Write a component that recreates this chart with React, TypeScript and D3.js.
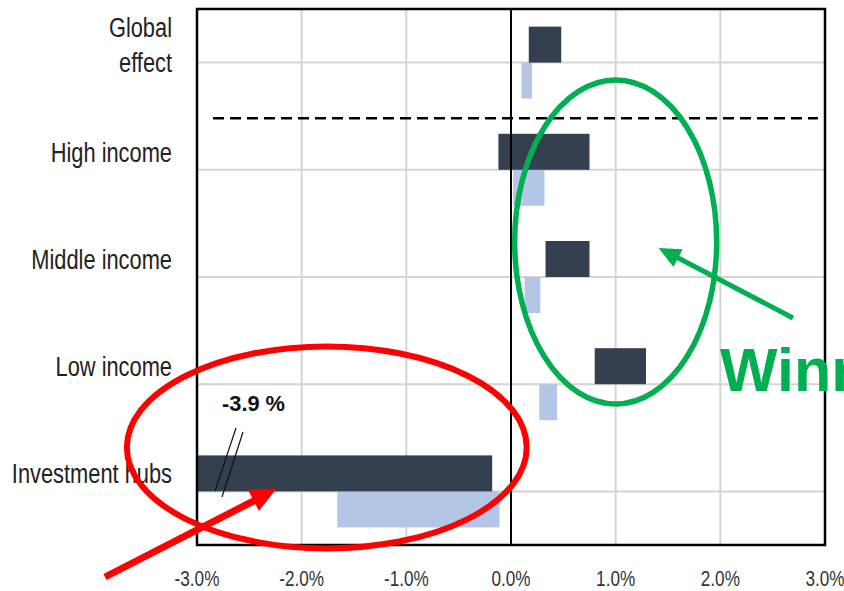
import React from "react";
import * as d3 from "d3";

const categories = ["Global effect", "High income", "Middle income", "Low income", "Investment hubs"];
const categoryLines = [["Global", "effect"], ["High income"], ["Middle income"], ["Low income"], ["Investment hubs"]];
const darkStart = [0.17, -0.12, 0.33, 0.8, -3.9];
const darkEnd = [0.48, 0.75, 0.75, 1.29, -0.18];
const lightStart = [0.1, 0.02, 0.13, 0.27, -1.66];
const lightEnd = [0.2, 0.32, 0.28, 0.44, -0.11];
const tickValues = [-3, -2, -1, 0, 1, 2, 3];
const tickLabels = ["-3.0%", "-2.0%", "-1.0%", "0.0%", "1.0%", "2.0%", "3.0%"];
const breakLabel = "-3.9 %";
const winnersLabel = "Winners";

const W = 844;
const H = 591;
const FONT = "'Liberation Sans', Arial, sans-serif";

function arrowHead(x1: number, y1: number, x2: number, y2: number, len: number, half: number) {
  const a = Math.atan2(y2 - y1, x2 - x1);
  const bx = x2 - len * Math.cos(a);
  const by = y2 - len * Math.sin(a);
  const px = -Math.sin(a) * half;
  const py = Math.cos(a) * half;
  return `${x2},${y2} ${bx + px},${by + py} ${bx - px},${by - py}`;
}

export default function App() {
  const left = 197, right = 825, top = 9, bottom = 545;
  const x = d3.scaleLinear().domain([-3, 3]).range([left, right]);
  const y = d3.scaleBand<string>().domain(categories).range([top, bottom]);
  const bw = y.bandwidth();
  const barH = 36;
  const center = (c: string) => (y(c) as number) + bw / 2;
  const clampX = (v: number) => x(Math.max(-3, Math.min(3, v)));

  const invC = center("Investment hubs");
  const dashY = (y("High income") as number) + 2;

  const redCx = x(-1.76), redRx = x(0) - x(-1.91), redCy = invC - 44, redRy = 101;
  const greenCx = x(1.0), greenRx = x(0.965) - x(0), greenCy = center("Middle income") - 35, greenRy = 162;

  const redTail = [105, 577];
  const redTip = [x(-2.24), invC - 3];
  const greenTail = [793, 318];
  const greenTip = [x(1.41), center("Middle income") - 29];

  return (
    <svg width={W} height={H} style={{ position: "absolute", left: 0, top: 0, background: "#fff" }} fontFamily={FONT}>
      <defs>
        <clipPath id="plotClip">
          <rect x={left} y={top} width={right - left} height={bottom - top} />
        </clipPath>
      </defs>
      <rect x={0} y={0} width={W} height={H} fill="#fff" />

      {tickValues.filter((t) => t !== 0 && t !== -3 && t !== 3).map((t) => (
        <line key={"gv" + t} x1={x(t)} x2={x(t)} y1={top} y2={bottom} stroke="#d4d4d4" strokeWidth={2} />
      ))}
      {categories.map((c) => (
        <line key={"gh" + c} x1={left} x2={right} y1={center(c)} y2={center(c)} stroke="#d4d4d4" strokeWidth={2} />
      ))}

      <g clipPath="url(#plotClip)">
        {categories.map((c, i) => (
          <g key={"b" + c}>
            <rect
              x={clampX(Math.min(lightStart[i], lightEnd[i]))}
              width={clampX(Math.max(lightStart[i], lightEnd[i])) - clampX(Math.min(lightStart[i], lightEnd[i]))}
              y={center(c)}
              height={barH}
              fill="#b4c6e6"
            />
            <rect
              x={clampX(Math.min(darkStart[i], darkEnd[i]))}
              width={clampX(Math.max(darkStart[i], darkEnd[i])) - clampX(Math.min(darkStart[i], darkEnd[i]))}
              y={center(c) - barH}
              height={barH}
              fill="#343f4f"
            />
          </g>
        ))}
      </g>

      <line x1={x(0)} x2={x(0)} y1={top} y2={bottom} stroke="#000" strokeWidth={2} />
      <rect x={left} y={top} width={right - left} height={bottom - top} fill="none" stroke="#000" strokeWidth={2.5} />

      <line x1={213} x2={818} y1={dashY} y2={dashY} stroke="#000" strokeWidth={2.5} strokeDasharray="11,6" />

      <line x1={236} y1={428} x2={215} y2={491} stroke="#111" strokeWidth={1.2} />
      <line x1={243} y1={432} x2={222} y2={497} stroke="#111" strokeWidth={1.2} />
      <text x={222} y={411} fontSize={22} fontWeight="bold" fill="#111" textLength={63} lengthAdjust="spacingAndGlyphs">
        {breakLabel}
      </text>

      {categories.map((c, i) => {
        const cy = center(c) - barH / 2;
        const lines = categoryLines[i];
        const baselines = lines.length === 1 ? [cy + 10] : [cy - 8, cy + 27];
        return lines.map((ln, j) => (
          <g key={"cl" + i + j} transform={`translate(172,${baselines[j]}) scale(0.78,1)`}>
            <text x={0} y={0} fontSize={28} textAnchor="end" fill="#222">
              {ln}
            </text>
          </g>
        ));
      })}

      {tickValues.map((t, i) => (
        <g key={"tl" + t} transform={`translate(${x(t)},586) scale(0.78,1)`}>
          <text x={0} y={0} fontSize={22} textAnchor="middle" fill="#333">
            {tickLabels[i]}
          </text>
        </g>
      ))}

      <ellipse cx={greenCx} cy={greenCy} rx={greenRx} ry={greenRy} fill="none" stroke="#00b050" strokeWidth={5.5} />
      <line x1={greenTail[0]} y1={greenTail[1]} x2={greenTip[0] + 14} y2={greenTip[1] + 7} stroke="#00b050" strokeWidth={5} />
      <polygon points={arrowHead(greenTail[0], greenTail[1], greenTip[0], greenTip[1], 22, 10)} fill="#00b050" />
      <text x={720} y={391} fontSize={61} fontWeight="bold" fill="#00b050">
        {winnersLabel}
      </text>

      <ellipse cx={redCx} cy={redCy} rx={redRx} ry={redRy} fill="none" stroke="#ff0000" strokeWidth={6} />
      <line x1={redTail[0]} y1={redTail[1]} x2={redTip[0] - 18} y2={redTip[1] + 10} stroke="#ff0000" strokeWidth={7} />
      <polygon points={arrowHead(redTail[0], redTail[1], redTip[0], redTip[1], 26, 12)} fill="#ff0000" />
    </svg>
  );
}
